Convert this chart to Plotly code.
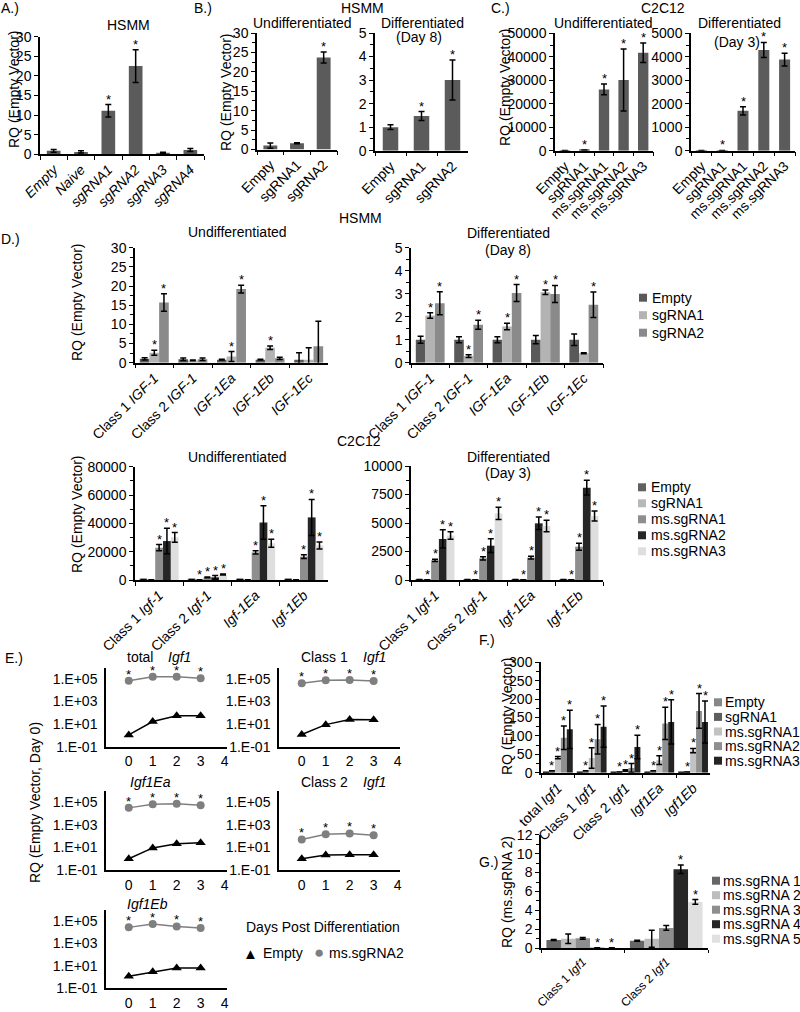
import math
import plotly.graph_objects as go

W, H = 800, 1012
FONT = "Liberation Sans, Arial, sans-serif"
FS = 14

# ---------------- Panel A (HSMM) ----------------
A_labels = ["<i>Empty</i>", "<i>Naive</i>", "<i>sgRNA1</i>", "<i>sgRNA2</i>", "<i>sgRNA3</i>", "<i>sgRNA4</i>"]
A_vals = [0.9, 0.6, 11.1, 22.5, 0.35, 1.1]
A_errs = [0.35, 0.3, 1.6, 4.2, 0.2, 0.4]
A_sig = [0, 0, 1, 1, 0, 0]

# ---------------- Panel B (HSMM) ----------------
B_labels = ["Empty", "sgRNA1", "sgRNA2"]
B_und_vals = [1.0, 1.6, 23.7]
B_und_errs = [0.7, 0.15, 1.4]
B_und_sig = [0, 0, 1]
B_dif_vals = [1.0, 1.47, 3.0]
B_dif_errs = [0.1, 0.19, 0.85]
B_dif_sig = [0, 1, 1]

# ---------------- Panel C (C2C12) ----------------
C_labels = ["Empty", "sgRNA1", "ms.sgRNA1", "ms.sgRNA2", "ms.sgRNA3"]
C_und_vals = [60, 250, 26100, 30100, 41700]
C_und_errs = [0, 0, 2300, 13200, 4150]
C_und_sig = [0, 1, 1, 1, 1]
C_dif_vals = [5, 10, 1700, 4290, 3880]
C_dif_errs = [0, 0, 175, 320, 275]
C_dif_sig = [0, 1, 1, 1, 1]

# ---------------- Panel D top (HSMM) ----------------
D1_labels = ["Class 1 <i>IGF-1</i>", "Class 2 <i>IGF-1</i>", "<i>IGF-1Ea</i>", "<i>IGF-1Eb</i>", "<i>IGF-1Ec</i>"]
D1_series = ["Empty", "sgRNA1", "sgRNA2"]
D1_colors = ["#595959", "#b3b3b3", "#8a8a8a"]
D1u_vals = [[1.0, 0.9, 0.8, 0.8, 0.8],
            [2.6, 0.6, 1.6, 3.9, 0.8],
            [15.7, 0.9, 19.2, 1.15, 4.3]]
D1u_errs = [[0.3, 0.3, 0.1, 0.1, 1.8],
            [0.65, 0.1, 1.3, 0.45, 3.1],
            [2.3, 0.3, 1.0, 0.3, 6.5]]
D1u_sig = [[0, 0, 0, 0, 0],
           [1, 0, 1, 1, 0],
           [1, 0, 1, 0, 0]]
D1d_vals = [[1.0, 1.0, 1.0, 1.0, 1.0],
            [2.05, 0.29, 1.57, 3.06, 0.41],
            [2.59, 1.65, 3.03, 2.99, 2.52]]
D1d_errs = [[0.15, 0.13, 0.13, 0.18, 0.25],
            [0.12, 0.06, 0.14, 0.1, 0.02],
            [0.5, 0.2, 0.37, 0.37, 0.55]]
D1d_sig = [[0, 0, 0, 0, 0],
           [1, 1, 1, 1, 0],
           [1, 1, 1, 1, 1]]

# ---------------- Panel D bottom (C2C12) ----------------
D2_labels = ["Class 1 <i>Igf-1</i>", "Class 2 <i>Igf-1</i>", "<i>Igf-1Ea</i>", "<i>Igf-1Eb</i>"]
D2_series = ["Empty", "sgRNA1", "ms.sgRNA1", "ms.sgRNA2", "ms.sgRNA3"]
D2_colors = ["#606060", "#b8b8b8", "#8e8e8e", "#262626", "#dedede"]
D2u_vals = [[300, 300, 300, 300],
            [100, 100, 100, 100],
            [22800, 1900, 19500, 16500],
            [27500, 1900, 40600, 44200],
            [30100, 3900, 25900, 24400]]
D2u_errs = [[0, 0, 0, 0],
            [0, 0, 0, 0],
            [2200, 300, 1200, 1400],
            [9000, 1200, 11800, 12700],
            [3400, 300, 2800, 2500]]
D2u_sig = [[0, 0, 0, 0],
           [0, 1, 0, 0],
           [1, 1, 1, 1],
           [1, 1, 1, 1],
           [1, 1, 1, 1]]
D2d_vals = [[50, 50, 40, 40],
            [20, 20, 20, 20],
            [1725, 1900, 1960, 2920],
            [3600, 3010, 4970, 8100],
            [3900, 5850, 4740, 5610]]
D2d_errs = [[0, 0, 0, 0],
            [0, 0, 0, 0],
            [100, 150, 120, 300],
            [800, 600, 550, 650],
            [330, 540, 500, 440]]
D2d_sig = [[0, 0, 0, 0],
           [1, 1, 1, 1],
           [1, 1, 1, 1],
           [1, 1, 1, 1],
           [1, 1, 1, 1]]

# ---------------- Panel E (time course, log scale) ----------------
E_days = [0, 1, 2, 3]
E_total_empty = [1.1, 17, 55, 55]
E_total_ms2 = [70000, 160000, 160000, 115000]
E_c1_empty = [1.2, 9, 26, 24]
E_c1_ms2 = [42000, 76000, 80000, 66000]
E_ea_empty = [1.0, 9, 21, 26]
E_ea_ms2 = [32000, 66000, 76000, 55000]
E_c2_empty = [1.0, 2.1, 2.3, 2.2]
E_c2_ms2 = [51, 150, 175, 123]
E_eb_empty = [1.2, 3, 6.6, 6.6]
E_eb_ms2 = [28000, 55000, 34000, 24000]
E_ytickvals = [0.1, 10, 1000, 100000]
E_yticktext = ["1.E-01", "1.E+01", "1.E+03", "1.E+05"]

# ---------------- Panel F ----------------
F_labels = ["total <i>Igf1</i>", "Class 1 <i>Igf1</i>", "Class 2 <i>Igf1</i>", "<i>Igf1Ea</i>", "<i>Igf1Eb</i>"]
F_series = ["Empty", "sgRNA1", "ms.sgRNA1", "ms.sgRNA2", "ms.sgRNA3"]
F_colors = ["#878787", "#5e5e5e", "#c2c2c2", "#8f8f8f", "#242424"]
F_vals = [[1, 1, 1, 1, 1],
          [5, 5, 2, 5, 2],
          [41, 40, 6, 34, 60],
          [95, 91, 13, 134, 168],
          [118, 125, 70, 138, 138]]
F_errs = [[0, 0, 0, 0, 0],
          [0, 0, 0, 0, 0],
          [3, 28, 2, 12, 6],
          [32, 40, 12, 44, 47],
          [52, 56, 32, 60, 57]]
F_sig = [[0, 0, 0, 0, 0],
         [1, 1, 1, 1, 1],
         [1, 1, 1, 1, 1],
         [1, 1, 1, 1, 1],
         [1, 1, 1, 1, 1]]

# ---------------- Panel G ----------------
G_labels = ["Class 1 <i>Igf1</i>", "Class 2 <i>Igf1</i>"]
G_series = ["ms.sgRNA 1", "ms.sgRNA 2", "ms.sgRNA 3", "ms.sgRNA 4", "ms.sgRNA 5"]
G_colors = ["#666666", "#bdbdbd", "#8e8e8e", "#262626", "#e0e0e0"]
G_vals = [[0.88, 0.8],
          [1.0, 1.0],
          [1.05, 2.15],
          [0.06, 8.35],
          [0.06, 4.9]]
G_errs = [[0.05, 0.05],
          [0.5, 0.9],
          [0.1, 0.25],
          [0, 0.45],
          [0, 0.25]]
G_sig = [[0, 0],
         [0, 0],
         [0, 0],
         [1, 1],
         [1, 1]]

# =====================================================================
fig = go.Figure()
layout_axes = {}
annotations = []
shapes = []
counter = [0]


def px(x):
    return x / W


def py(y):
    return 1 - y / H


def new_axes(x0, x1, ytop, ybot, xopt, yopt):
    counter[0] += 1
    k = counter[0]
    sfx = "" if k == 1 else str(k)
    layout_axes["xaxis" + sfx] = dict(domain=[px(x0), px(x1)], anchor="y" + sfx, **xopt)
    layout_axes["yaxis" + sfx] = dict(domain=[py(ybot), py(ytop)], anchor="x" + sfx, **yopt)
    return "x" + sfx, "y" + sfx


def text(x, y, s, size=FS, xanchor="center", yanchor="middle", angle=0, color="black"):
    annotations.append(dict(xref="paper", yref="paper", x=px(x), y=py(y), text=s,
                            showarrow=False, xanchor=xanchor, yanchor=yanchor,
                            textangle=angle, borderpad=0,
                            font=dict(family=FONT, size=size, color=color)))


TF = dict(family=FONT, size=FS, color="black")


def cat_xaxis(labels, fsize=FS, tlen=4):
    return dict(type="category", categoryorder="array", categoryarray=labels,
                range=[-0.5, len(labels) - 0.5], showline=True, linecolor="black",
                linewidth=1.5, ticks="outside", tickson="boundaries", ticklen=tlen,
                tickwidth=1.2, tickcolor="black", tickangle=-45,
                tickfont=dict(family=FONT, size=fsize, color="black"),
                showgrid=False, zeroline=False, fixedrange=True, automargin=False)


def val_yaxis(rng, dtick, minor=None):
    d = dict(range=rng, dtick=dtick, tick0=0, tickformat="d", showline=True,
             linecolor="black", linewidth=1.5, ticks="outside", ticklen=4,
             tickwidth=1.2, tickcolor="black", tickfont=TF, showgrid=False,
             zeroline=False, fixedrange=True, automargin=False)
    if minor:
        d["minor"] = dict(dtick=minor, tick0=0, ticks="outside", ticklen=3,
                          tickwidth=1, tickcolor="black", showgrid=False)
    return d


def bar_panel(box, labels, vals, errs, sigs, colors, rng, dtick, minor, group, fsize=FS, tlen=4):
    x0, x1, ytop, ybot = box
    xr, yr = new_axes(x0, x1, ytop, ybot, cat_xaxis(labels, fsize, tlen), val_yaxis(rng, dtick, minor))
    n = len(vals)
    w = group / n
    for i in range(n):
        off = -group / 2 + i * w
        earr = [e if e else None for e in errs[i]]
        fig.add_trace(go.Bar(x=labels, y=vals[i], width=w, offset=off,
                             marker=dict(color=colors[i], line=dict(width=0)),
                             error_y=dict(type="data", array=earr, visible=True,
                                          color="black", thickness=1.5, width=3),
                             xaxis=xr, yaxis=yr, showlegend=False, hoverinfo="skip"))
        for j in range(len(labels)):
            if sigs[i][j]:
                annotations.append(dict(x=j + off + w / 2, y=vals[i][j] + errs[i][j],
                                        xref=xr, yref=yr, text="*", showarrow=False,
                                        xanchor="center", yanchor="bottom", yshift=-4,
                                        font=dict(family=FONT, size=13, color="black")))
    return xr, yr


def legend_box(xsq, y0, dy, names, colors, sq=8, gap=3):
    for i, (nm, c) in enumerate(zip(names, colors)):
        yc = y0 + i * dy
        shapes.append(dict(type="rect", xref="paper", yref="paper",
                           x0=px(xsq), x1=px(xsq + sq), y0=py(yc + sq / 2), y1=py(yc - sq / 2),
                           fillcolor=c, line=dict(width=0)))
        text(xsq + sq + gap, yc, nm, xanchor="left")


# ---------------- A ----------------
bar_panel((40, 204, 36.7, 154.3), A_labels, [A_vals], [A_errs], [A_sig], ["#5b5b5b"],
          [0, 30], 5, None, 0.5)
text(0, 8, "A.)", xanchor="left")
text(128, 25, "HSMM")
text(14, 90, "RQ (Empty Vector)", angle=-90)

# ---------------- B ----------------
bar_panel((257, 337, 33, 149.5), B_labels, [B_und_vals], [B_und_errs], [B_und_sig], ["#5b5b5b"],
          [0, 30], 5, 2.5, 0.52)
bar_panel((375, 468, 33, 150.7), B_labels, [B_dif_vals], [B_dif_errs], [B_dif_sig], ["#5b5b5b"],
          [0, 5], 1, 0.5, 0.5)
text(193, 8, "B.)", xanchor="left")
text(362, 8, "HSMM")
text(302, 23, "Undifferentiated")
text(422, 23, "Differentiated")
text(419, 37, "(Day 8)")
text(226, 92, "RQ (Empty Vector)", angle=-90)

# ---------------- C ----------------
bar_panel((555, 653, 33.3, 150.7), C_labels, [C_und_vals], [C_und_errs], [C_und_sig], ["#5b5b5b"],
          [0, 50000], 10000, 5000, 0.53)
bar_panel((691, 795, 33.3, 150.7), C_labels, [C_dif_vals], [C_dif_errs], [C_dif_sig], ["#5b5b5b"],
          [0, 5000], 1000, 500, 0.53)
text(490, 8, "C.)", xanchor="left")
text(663, 8, "C2C12")
text(603, 23, "Undifferentiated")
text(739, 23, "Differentiated")
text(737, 42, "(Day 3)")
text(505, 88, "RQ (Empty Vector)", angle=-90)

# ---------------- D top ----------------
bar_panel((135, 328, 247.7, 362.7), D1_labels, D1u_vals, D1u_errs, D1u_sig, D1_colors,
          [0, 30], 5, 2.5, 0.75)
bar_panel((411, 603, 247.7, 362.7), D1_labels, D1d_vals, D1d_errs, D1d_sig, D1_colors,
          [0, 5], 1, 0.5, 0.75)
text(0, 239, "D.)", xanchor="left")
text(360, 218, "HSMM")
text(237, 232, "Undifferentiated")
text(508, 233, "Differentiated")
text(508, 250, "(Day 8)")
text(77, 303, "RQ (Empty Vector)", angle=-90)
legend_box(639, 297.7, 17.5, D1_series, D1_colors, sq=8, gap=4)

# ---------------- D bottom ----------------
bar_panel((135, 328, 466.7, 580), D2_labels, D2u_vals, D2u_errs, D2u_sig, D2_colors,
          [0, 80000], 20000, 10000, 0.81)
bar_panel((411, 603, 466, 580), D2_labels, D2d_vals, D2d_errs, D2d_sig, D2_colors,
          [0, 10000], 2500, 1250, 0.81)
text(359, 441, "C2C12")
text(237, 457, "Undifferentiated")
text(508, 457, "Differentiated")
text(508, 473, "(Day 3)")
text(77, 515, "RQ (Empty Vector)", angle=-90)
legend_box(638, 487.3, 16, D2_series, D2_colors, sq=8, gap=4)

# ---------------- E ----------------
E_xopt = dict(range=[-0.95, 4.1], tickvals=[0, 1, 2, 3, 4], showline=True, linecolor="black",
              linewidth=1.5, ticks="outside", ticklen=1, tickcolor="rgba(0,0,0,0)",
              tickfont=TF, showgrid=False, zeroline=False, fixedrange=True, automargin=False)
E_yopt = dict(type="log", range=[-1, 6], tickvals=E_ytickvals, ticktext=E_yticktext,
              showline=True, linecolor="black", linewidth=1.5, ticks="outside", ticklen=4,
              tickcolor="rgba(0,0,0,0)", tickfont=TF, showgrid=False, zeroline=False,
              fixedrange=True, automargin=False)


def e_panel(box, empty_vals, ms2_vals):
    x0, x1, ytop, ybot = box
    xr, yr = new_axes(x0, x1, ytop, ybot, dict(E_xopt), dict(E_yopt))
    fig.add_trace(go.Scatter(x=E_days, y=empty_vals, mode="lines+markers",
                             line=dict(color="black", width=1.5),
                             marker=dict(symbol="triangle-up", size=9, color="black"),
                             xaxis=xr, yaxis=yr, showlegend=False, hoverinfo="skip"))
    fig.add_trace(go.Scatter(x=E_days, y=ms2_vals, mode="lines+markers",
                             line=dict(color="#7f7f7f", width=1.5),
                             marker=dict(symbol="circle", size=8, color="#7f7f7f"),
                             xaxis=xr, yaxis=yr, showlegend=False, hoverinfo="skip"))
    for d, v in zip(E_days, ms2_vals):
        annotations.append(dict(x=d, y=math.log10(v), xref=xr, yref=yr, text="*",
                                showarrow=False, xanchor="center", yanchor="bottom", yshift=-3,
                                font=dict(family=FONT, size=13, color="black")))


e_panel((106, 227, 667.7, 746.7), E_total_empty, E_total_ms2)
e_panel((279, 400, 667.7, 746.7), E_c1_empty, E_c1_ms2)
e_panel((106, 227, 791, 870), E_ea_empty, E_ea_ms2)
e_panel((279, 400, 791, 870), E_c2_empty, E_c2_ms2)
e_panel((106, 227, 910, 988.3), E_eb_empty, E_eb_ms2)
text(4, 658, "E.)", xanchor="left")
text(126, 657, "total", xanchor="left")
text(167, 657, "<i>Igf1</i>", xanchor="left")
text(300, 657, "Class 1", xanchor="left")
text(362, 657, "<i>Igf1</i>", xanchor="left")
text(150, 782, "<i>Igf1Ea</i>")
text(300, 782, "Class 2", xanchor="left")
text(362, 782, "<i>Igf1</i>", xanchor="left")
text(147, 904, "<i>Igf1Eb</i>")
text(35, 803, "RQ (Empty Vector, Day 0)", angle=-90)
text(323, 927, "Days Post Differentiation")
text(250, 953, "▲", size=15)
text(262, 953, "Empty", xanchor="left")
text(319, 952, "●", size=17, color="#7f7f7f")
text(328, 953, "ms.sgRNA2", xanchor="left")

# ---------------- F ----------------
bar_panel((541, 710, 662.3, 772.7), F_labels, F_vals, F_errs, F_sig, F_colors,
          [0, 300], 50, 25, 0.88)
text(478, 640, "F.)", xanchor="left")
text(507, 717, "RQ (Empty Vector)", angle=-90)
legend_box(714, 702.3, 14.6, F_series, F_colors, sq=8, gap=2)

# ---------------- G ----------------
bar_panel((541, 708, 834.7, 948.3), G_labels, G_vals, G_errs, G_sig, G_colors,
          [0, 12], 2, 1, 0.87, fsize=12, tlen=3)
text(478, 862, "G.)", xanchor="left")
text(507, 892, "RQ (ms.sgRNA 2)", angle=-90)
legend_box(712, 880.7, 14.5, G_series, G_colors, sq=8, gap=2)

fig.update_layout(width=W, height=H, autosize=False, barmode="overlay",
                  margin=dict(l=0, r=0, t=0, b=0, pad=0, autoexpand=False),
                  paper_bgcolor="white",
                  plot_bgcolor="white", showlegend=False,
                  font=dict(family=FONT, size=FS, color="black"),
                  annotations=annotations, shapes=shapes, **layout_axes)

fig.write_html("out.html", config={"responsive": False, "displayModeBar": False},
               post_script="document.documentElement.style.margin='0';"
                           "document.body.style.margin='0';document.body.style.padding='0';")
